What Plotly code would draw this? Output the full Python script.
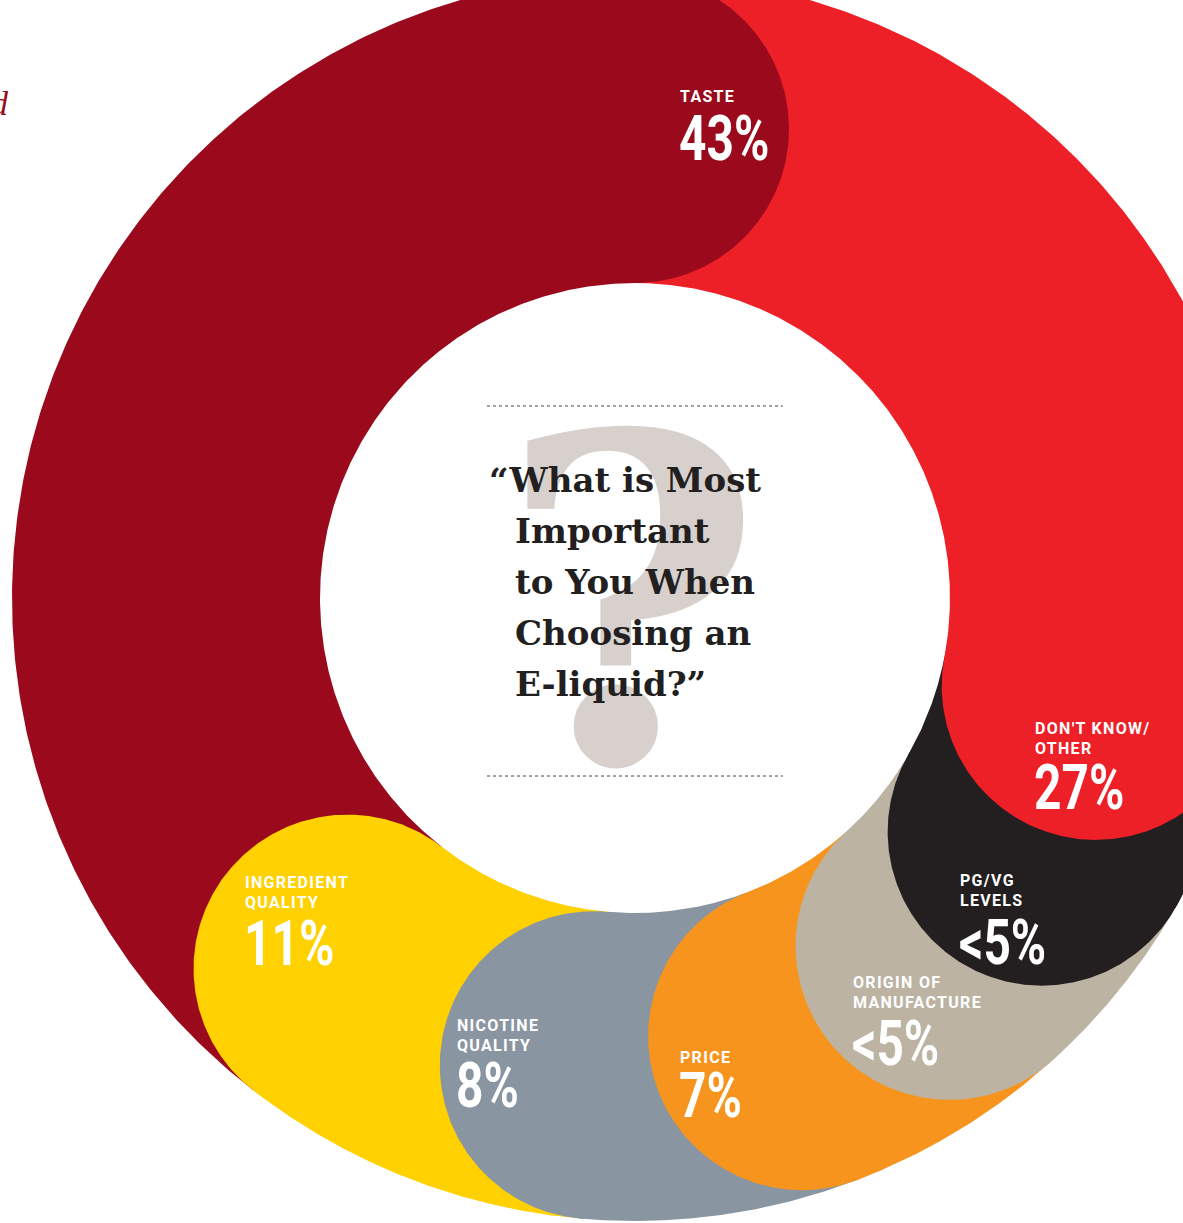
import json
import numpy as np
import plotly.graph_objects as go

# ---------------- data ----------------
categories = ["DON'T KNOW/<br>OTHER", "PG/VG<br>LEVELS", "ORIGIN OF<br>MANUFACTURE",
              "PRICE", "NICOTINE<br>QUALITY", "INGREDIENT<br>QUALITY", "TASTE"]
percent_values = [27, 5, 5, 7, 8, 11, 43]          # "<5" shown for the two small ones
value_labels = ["27%", "&lt;5%", "&lt;5%", "7%", "8%", "11%", "43%"]
arc_share = [28.0, 5.3, 5.0, 5.9, 7.2, 9.1, 39.5]  # share of the ring drawn, clockwise from top
colors = ["#ed1f27", "#231f20", "#bcb3a3", "#f7941d", "#8a95a2", "#ffd100", "#9a0a1c"]

question_lines = ["\u201cWhat is Most", "Important", "to You When", "Choosing an", "E-liquid?\u201d"]

# ---------------- layout / geometry settings ----------------
W, H = 1183, 1223
CX, CY = 635, 598
R_OUT, R_IN = 623, 315
R_MID = (R_OUT + R_IN) / 2
CAP_R = (R_OUT - R_IN) / 2

label_pos = [(1035, 728), (960, 880), (853, 982), (680, 1057), (457, 1025), (245, 882), (680, 96)]
number_y = [787, 942, 1043, 1095, 1085, 943, 138]


def to_xy(theta_deg, r):
    t = np.radians(theta_deg)
    return CX + r * np.sin(t), CY - r * np.cos(t)


shares = np.array(arc_share, dtype=float)
ends = np.cumsum(shares) / shares.sum() * 360.0
starts = np.concatenate([[0.0], ends[:-1]])

fig = go.Figure()

# ring bands
for a, b, c in zip(starts, ends, colors):
    th = np.linspace(a, b, 300)
    xo, yo = to_xy(th, R_OUT)
    xi, yi = to_xy(th[::-1], R_IN)
    fig.add_trace(go.Scatter(x=np.concatenate([xo, xi]), y=np.concatenate([yo, yi]),
                             fill="toself", fillcolor=c, mode="lines", line=dict(width=0),
                             hoverinfo="skip", showlegend=False))

# rounded caps at the clockwise end of each segment (later segments first)
phi = np.linspace(0, 2 * np.pi, 400)
for i in reversed(range(len(ends))):
    mx, my = to_xy(ends[i], R_MID)
    fig.add_trace(go.Scatter(x=mx + CAP_R * np.cos(phi), y=my + CAP_R * np.sin(phi),
                             fill="toself", fillcolor=colors[i], mode="lines", line=dict(width=0),
                             hoverinfo="skip", showlegend=False))

annotations = []

# big background question mark
annotations.append(dict(x=630, y=603, text="<b>?</b>", showarrow=False, xanchor="center", yanchor="middle",
                        font=dict(family="DejaVu Serif", size=453, color="#d7d0cc")))

# question text
q_y = [480, 531, 582, 633, 684]
for k, (line, yy) in enumerate(zip(question_lines, q_y)):
    annotations.append(dict(x=487 if k == 0 else 513, y=yy, text="<b>" + line + "</b>", showarrow=False,
                            xanchor="left", yanchor="middle",
                            font=dict(family="DejaVu Serif", size=34, color="#231f20")))

# segment labels
small_texts = []
for cat, val, (lx, ly), ny in zip(categories, value_labels, label_pos, number_y):
    for j, part in enumerate(cat.split("<br>")):
        small_texts.append(part)
        annotations.append(dict(x=lx - 2, y=ly + j * 20.5, text="<b>" + part + "</b>", showarrow=False,
                                xanchor="left", yanchor="middle",
                                font=dict(family="Roboto", size=16, color="white")))
    annotations.append(dict(x=lx - 3, y=ny, text="<b>" + val + "</b>", showarrow=False,
                            xanchor="left", yanchor="middle",
                            font=dict(family="Roboto", size=63, color="white")))

# cut-off italic letter at the top-left edge
annotations.append(dict(x=11, y=103, text="<i>ed</i>", showarrow=False, xanchor="right", yanchor="middle",
                        font=dict(family="Liberation Serif", size=34, color="#9a0a1c")))

shapes = [dict(type="line", x0=487, x1=783, y0=yy, y1=yy, line=dict(color="#444444", width=1, dash="dot"))
          for yy in (406, 776)]

fig.update_layout(
    width=W, height=H, margin=dict(l=0, r=0, t=0, b=0),
    paper_bgcolor="white", plot_bgcolor="white",
    xaxis=dict(range=[0, W], visible=False, fixedrange=True),
    yaxis=dict(range=[H, 0], visible=False, fixedrange=True),
    annotations=annotations, shapes=shapes, showlegend=False,
)

# condensed look for the big numbers, tracked-out small caps labels
number_texts = [v.replace("&lt;", "<") for v in value_labels]
post = """
var nums = %s;
var smalls = %s;
function styleTexts() {
  document.querySelectorAll('text.annotation-text').forEach(function (el) {
    var t = el.textContent;
    if (el.dataset.orig === undefined) { el.dataset.orig = el.getAttribute('transform') || ''; }
    if (nums.indexOf(t) >= 0) {
      var b = el.getBBox();
      var s = 0.76;
      el.setAttribute('transform', el.dataset.orig + ' translate(' + (b.x * (1 - s)) + ',0) scale(' + s + ',1)');
    } else if (smalls.indexOf(t) >= 0 && !el.dataset.spaced) {
      var b0 = el.getBBox();
      el.style.letterSpacing = '1.3px';
      var b1 = el.getBBox();
      el.dataset.spaced = '1';
      el.setAttribute('transform', el.dataset.orig + ' translate(' + (b0.x - b1.x) + ',0)');
    }
  });
}
styleTexts();
var gd = document.getElementById('{plot_id}');
if (gd && gd.on) { gd.on('plotly_afterplot', function () {
  document.querySelectorAll('text.annotation-text').forEach(function (el) { delete el.dataset.spaced; });
  styleTexts();
}); }
""" % (json.dumps(number_texts), json.dumps(small_texts))

fig.write_html("out.html", post_script=post)
